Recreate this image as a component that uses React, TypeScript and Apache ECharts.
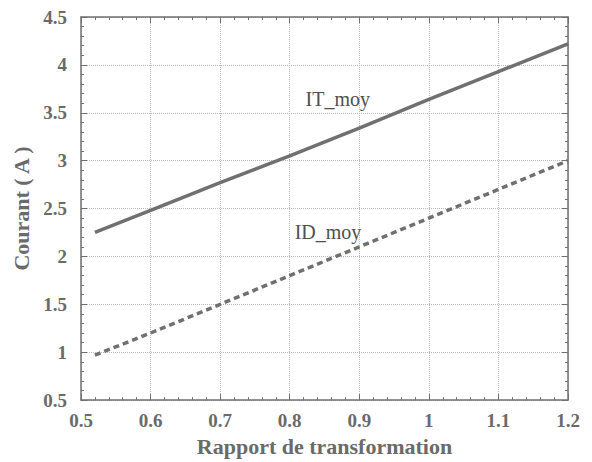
import React, { useEffect, useRef } from "react";
import * as echarts from "echarts";

const xValues = [0.52, 0.6, 0.7, 0.8, 0.9, 1.0, 1.1, 1.2];
const itMoy = [2.25, 2.48, 2.77, 3.05, 3.34, 3.64, 3.93, 4.22];
const idMoy = [0.97, 1.2, 1.5, 1.8, 2.1, 2.4, 2.7, 3.0];
const seriesNames = ["IT_moy", "ID_moy"];
const labelPos = [
  [0.869, 3.64],
  [0.855, 2.25],
];
const xTitle = "Rapport de transformation";
const yTitle = "Courant ( A )";

const FONT = "'Liberation Serif', 'DejaVu Serif', serif";
const GREY = "#707070";

export default function App() {
  const ref = useRef<HTMLDivElement>(null);
  useEffect(() => {
    if (!ref.current) return;
    const chart = echarts.init(ref.current, null, { renderer: "svg" });
    const axisCommon = {
      type: "value" as const,
      axisLine: { show: true, lineStyle: { color: GREY, width: 1.5 } },
      axisTick: { show: true, inside: true, length: 6, lineStyle: { color: GREY } },
      minorTick: { show: true, splitNumber: 5, length: 3, lineStyle: { color: GREY } },
    };
    const tickLabel = {
      fontFamily: FONT,
      fontSize: 19,
      fontWeight: "bold",
      color: "#6a6a6a",
      formatter: (v: number) => String(parseFloat(v.toFixed(2))),
    };
    const titleStyle = { fontFamily: FONT, fontSize: 22, fontWeight: "bold", color: "#6a6a6a" };
    const textLabel = (name: string) => ({
      show: true,
      formatter: name,
      fontFamily: FONT,
      fontSize: 20,
      color: "#4f4f4f",
    });
    chart.setOption({
      animation: false,
      backgroundColor: "#fff",
      grid: { left: 81, top: 17, right: 24, bottom: 55, containLabel: false },
      xAxis: [
        {
          ...axisCommon,
          min: 0.5,
          max: 1.2,
          interval: 0.1,
          position: "bottom",
          name: xTitle,
          nameLocation: "middle",
          nameGap: 31,
          nameTextStyle: titleStyle,
          axisLabel: { ...tickLabel, margin: 11 },
          splitLine: { show: true, lineStyle: { type: "dotted", color: "#b8b8b8" } },
        },
        {
          ...axisCommon,
          min: 0.5,
          max: 1.2,
          interval: 0.1,
          position: "top",
          axisLabel: { show: false },
          splitLine: { show: false },
        },
      ],
      yAxis: [
        {
          ...axisCommon,
          min: 0.5,
          max: 4.5,
          interval: 0.5,
          position: "left",
          name: yTitle,
          nameLocation: "middle",
          nameGap: 44,
          nameTextStyle: titleStyle,
          axisLabel: { ...tickLabel, margin: 14 },
          splitLine: { show: true, lineStyle: { type: "dotted", color: "#b8b8b8" } },
        },
        {
          ...axisCommon,
          min: 0.5,
          max: 4.5,
          interval: 0.5,
          position: "right",
          axisLabel: { show: false },
          splitLine: { show: false },
        },
      ],
      series: [
        {
          name: seriesNames[0],
          type: "line",
          data: xValues.map((x, i) => [x, itMoy[i]]),
          showSymbol: false,
          lineStyle: { color: GREY, width: 3.5 },
          markPoint: {
            symbol: "rect",
            symbolSize: 0,
            label: textLabel(seriesNames[0]),
            data: [{ coord: labelPos[0] }],
          },
        },
        {
          name: seriesNames[1],
          type: "line",
          data: xValues.map((x, i) => [x, idMoy[i]]),
          showSymbol: false,
          lineStyle: { color: GREY, width: 3.5, type: [6, 4] },
          markPoint: {
            symbol: "rect",
            symbolSize: 0,
            label: textLabel(seriesNames[1]),
            data: [{ coord: labelPos[1] }],
          },
        },
      ],
    });
    return () => chart.dispose();
  }, []);
  return <div ref={ref} style={{ width: 592, height: 462, position: "absolute", left: 0, top: 0 }} />;
}
